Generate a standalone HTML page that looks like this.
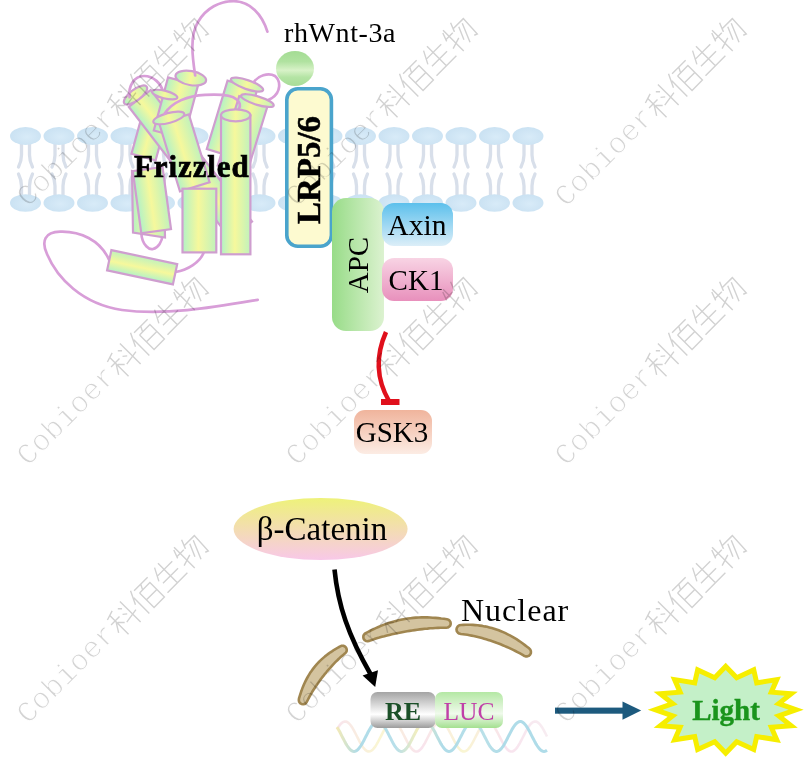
<!DOCTYPE html>
<html><head><meta charset="utf-8"><style>
html,body{margin:0;padding:0;background:#fff;}
svg{display:block;}
</style></head><body>
<svg width="807" height="774" viewBox="0 0 807 774">
<rect width="807" height="774" fill="#fff"/>

<defs>
 <linearGradient id="cylH" x1="0" y1="0" x2="1" y2="0">
  <stop offset="0" stop-color="#b2f2c6"/><stop offset="0.47" stop-color="#f6f89c"/><stop offset="1" stop-color="#c0f2bc"/>
 </linearGradient>
 <linearGradient id="capG" x1="0" y1="0" x2="1" y2="0">
  <stop offset="0" stop-color="#b2f2c6"/><stop offset="0.5" stop-color="#f6f89c"/><stop offset="1" stop-color="#c0f2bc"/>
 </linearGradient>
 <radialGradient id="wnt" cx="0.5" cy="0.5" r="0.6">
  <stop offset="0" stop-color="#e8f8d8"/><stop offset="1" stop-color="#98d888"/>
 </radialGradient>
 <linearGradient id="wntG" x1="0" y1="0" x2="0" y2="1">
  <stop offset="0" stop-color="#a4dc94"/><stop offset="0.3" stop-color="#b0e2a0"/><stop offset="0.55" stop-color="#d8f2c8"/><stop offset="0.75" stop-color="#b4e4a4"/><stop offset="1" stop-color="#a8dc98"/>
 </linearGradient>
 <radialGradient id="headG" cx="0.55" cy="0.55" r="0.6">
  <stop offset="0" stop-color="#d8ebf8"/><stop offset="1" stop-color="#c9e1f2"/>
 </radialGradient>
 <linearGradient id="apcG" x1="0" y1="0" x2="1" y2="0">
  <stop offset="0" stop-color="#98dc88"/><stop offset="1" stop-color="#dcf2d0"/>
 </linearGradient>
 <linearGradient id="axinG" x1="0" y1="0" x2="0" y2="1">
  <stop offset="0" stop-color="#5cc0ec"/><stop offset="1" stop-color="#dceef8"/>
 </linearGradient>
 <linearGradient id="ck1G" x1="0" y1="0" x2="0" y2="1">
  <stop offset="0" stop-color="#f8d4e4"/><stop offset="1" stop-color="#e890bc"/>
 </linearGradient>
 <linearGradient id="gskG" x1="0" y1="0" x2="0" y2="1">
  <stop offset="0" stop-color="#f0b49c"/><stop offset="1" stop-color="#fcece4"/>
 </linearGradient>
 <linearGradient id="betaG" x1="0" y1="0" x2="0" y2="1">
  <stop offset="0" stop-color="#eef27a"/><stop offset="1" stop-color="#f8c8e8"/>
 </linearGradient>
 <linearGradient id="reG" x1="0" y1="0" x2="0" y2="1">
  <stop offset="0" stop-color="#a4a4a4"/><stop offset="0.62" stop-color="#ffffff"/><stop offset="1" stop-color="#9c9c9c"/>
 </linearGradient>
 <linearGradient id="lucG" x1="0" y1="0" x2="0" y2="1">
  <stop offset="0" stop-color="#b4e8a4"/><stop offset="0.6" stop-color="#f0faec"/><stop offset="1" stop-color="#a4e090"/>
 </linearGradient>
</defs>

<g id="membrane">
<path d="M21.5,144 L21.5,155 Q21.5,161 18.5,167 M29.5,144 L29.5,155 Q29.5,161 32.5,167" stroke="#d8dfea" stroke-width="3.3" fill="none" stroke-linecap="round"/>
<path d="M18.5,174 Q21.5,180 21.5,186 L21.5,196 M32.5,174 Q29.5,180 29.5,186 L29.5,196" stroke="#d8dfea" stroke-width="3.3" fill="none" stroke-linecap="round"/>
<ellipse cx="25.5" cy="136" rx="15.5" ry="9" fill="url(#headG)"/>
<ellipse cx="25.5" cy="203" rx="15.5" ry="8.7" fill="url(#headG)"/>
<path d="M55.0,144 L55.0,155 Q55.0,161 52.0,167 M63.0,144 L63.0,155 Q63.0,161 66.0,167" stroke="#d8dfea" stroke-width="3.3" fill="none" stroke-linecap="round"/>
<path d="M52.0,174 Q55.0,180 55.0,186 L55.0,196 M66.0,174 Q63.0,180 63.0,186 L63.0,196" stroke="#d8dfea" stroke-width="3.3" fill="none" stroke-linecap="round"/>
<ellipse cx="59.0" cy="136" rx="15.5" ry="9" fill="url(#headG)"/>
<ellipse cx="59.0" cy="203" rx="15.5" ry="8.7" fill="url(#headG)"/>
<path d="M88.5,144 L88.5,155 Q88.5,161 85.5,167 M96.5,144 L96.5,155 Q96.5,161 99.5,167" stroke="#d8dfea" stroke-width="3.3" fill="none" stroke-linecap="round"/>
<path d="M85.5,174 Q88.5,180 88.5,186 L88.5,196 M99.5,174 Q96.5,180 96.5,186 L96.5,196" stroke="#d8dfea" stroke-width="3.3" fill="none" stroke-linecap="round"/>
<ellipse cx="92.5" cy="136" rx="15.5" ry="9" fill="url(#headG)"/>
<ellipse cx="92.5" cy="203" rx="15.5" ry="8.7" fill="url(#headG)"/>
<path d="M122.0,144 L122.0,155 Q122.0,161 119.0,167 M130.0,144 L130.0,155 Q130.0,161 133.0,167" stroke="#d8dfea" stroke-width="3.3" fill="none" stroke-linecap="round"/>
<path d="M119.0,174 Q122.0,180 122.0,186 L122.0,196 M133.0,174 Q130.0,180 130.0,186 L130.0,196" stroke="#d8dfea" stroke-width="3.3" fill="none" stroke-linecap="round"/>
<ellipse cx="126.0" cy="136" rx="15.5" ry="9" fill="url(#headG)"/>
<ellipse cx="126.0" cy="203" rx="15.5" ry="8.7" fill="url(#headG)"/>
<path d="M155.5,144 L155.5,155 Q155.5,161 152.5,167 M163.5,144 L163.5,155 Q163.5,161 166.5,167" stroke="#d8dfea" stroke-width="3.3" fill="none" stroke-linecap="round"/>
<path d="M152.5,174 Q155.5,180 155.5,186 L155.5,196 M166.5,174 Q163.5,180 163.5,186 L163.5,196" stroke="#d8dfea" stroke-width="3.3" fill="none" stroke-linecap="round"/>
<ellipse cx="159.5" cy="136" rx="15.5" ry="9" fill="url(#headG)"/>
<ellipse cx="159.5" cy="203" rx="15.5" ry="8.7" fill="url(#headG)"/>
<path d="M189.0,144 L189.0,155 Q189.0,161 186.0,167 M197.0,144 L197.0,155 Q197.0,161 200.0,167" stroke="#d8dfea" stroke-width="3.3" fill="none" stroke-linecap="round"/>
<path d="M186.0,174 Q189.0,180 189.0,186 L189.0,196 M200.0,174 Q197.0,180 197.0,186 L197.0,196" stroke="#d8dfea" stroke-width="3.3" fill="none" stroke-linecap="round"/>
<ellipse cx="193.0" cy="136" rx="15.5" ry="9" fill="url(#headG)"/>
<ellipse cx="193.0" cy="203" rx="15.5" ry="8.7" fill="url(#headG)"/>
<path d="M222.5,144 L222.5,155 Q222.5,161 219.5,167 M230.5,144 L230.5,155 Q230.5,161 233.5,167" stroke="#d8dfea" stroke-width="3.3" fill="none" stroke-linecap="round"/>
<path d="M219.5,174 Q222.5,180 222.5,186 L222.5,196 M233.5,174 Q230.5,180 230.5,186 L230.5,196" stroke="#d8dfea" stroke-width="3.3" fill="none" stroke-linecap="round"/>
<ellipse cx="226.5" cy="136" rx="15.5" ry="9" fill="url(#headG)"/>
<ellipse cx="226.5" cy="203" rx="15.5" ry="8.7" fill="url(#headG)"/>
<path d="M256.0,144 L256.0,155 Q256.0,161 253.0,167 M264.0,144 L264.0,155 Q264.0,161 267.0,167" stroke="#d8dfea" stroke-width="3.3" fill="none" stroke-linecap="round"/>
<path d="M253.0,174 Q256.0,180 256.0,186 L256.0,196 M267.0,174 Q264.0,180 264.0,186 L264.0,196" stroke="#d8dfea" stroke-width="3.3" fill="none" stroke-linecap="round"/>
<ellipse cx="260.0" cy="136" rx="15.5" ry="9" fill="url(#headG)"/>
<ellipse cx="260.0" cy="203" rx="15.5" ry="8.7" fill="url(#headG)"/>
<path d="M289.5,144 L289.5,155 Q289.5,161 286.5,167 M297.5,144 L297.5,155 Q297.5,161 300.5,167" stroke="#d8dfea" stroke-width="3.3" fill="none" stroke-linecap="round"/>
<path d="M286.5,174 Q289.5,180 289.5,186 L289.5,196 M300.5,174 Q297.5,180 297.5,186 L297.5,196" stroke="#d8dfea" stroke-width="3.3" fill="none" stroke-linecap="round"/>
<ellipse cx="293.5" cy="136" rx="15.5" ry="9" fill="url(#headG)"/>
<ellipse cx="293.5" cy="203" rx="15.5" ry="8.7" fill="url(#headG)"/>
<path d="M323.0,144 L323.0,155 Q323.0,161 320.0,167 M331.0,144 L331.0,155 Q331.0,161 334.0,167" stroke="#d8dfea" stroke-width="3.3" fill="none" stroke-linecap="round"/>
<path d="M320.0,174 Q323.0,180 323.0,186 L323.0,196 M334.0,174 Q331.0,180 331.0,186 L331.0,196" stroke="#d8dfea" stroke-width="3.3" fill="none" stroke-linecap="round"/>
<ellipse cx="327.0" cy="136" rx="15.5" ry="9" fill="url(#headG)"/>
<ellipse cx="327.0" cy="203" rx="15.5" ry="8.7" fill="url(#headG)"/>
<path d="M356.5,144 L356.5,155 Q356.5,161 353.5,167 M364.5,144 L364.5,155 Q364.5,161 367.5,167" stroke="#d8dfea" stroke-width="3.3" fill="none" stroke-linecap="round"/>
<path d="M353.5,174 Q356.5,180 356.5,186 L356.5,196 M367.5,174 Q364.5,180 364.5,186 L364.5,196" stroke="#d8dfea" stroke-width="3.3" fill="none" stroke-linecap="round"/>
<ellipse cx="360.5" cy="136" rx="15.5" ry="9" fill="url(#headG)"/>
<ellipse cx="360.5" cy="203" rx="15.5" ry="8.7" fill="url(#headG)"/>
<path d="M390.0,144 L390.0,155 Q390.0,161 387.0,167 M398.0,144 L398.0,155 Q398.0,161 401.0,167" stroke="#d8dfea" stroke-width="3.3" fill="none" stroke-linecap="round"/>
<path d="M387.0,174 Q390.0,180 390.0,186 L390.0,196 M401.0,174 Q398.0,180 398.0,186 L398.0,196" stroke="#d8dfea" stroke-width="3.3" fill="none" stroke-linecap="round"/>
<ellipse cx="394.0" cy="136" rx="15.5" ry="9" fill="url(#headG)"/>
<ellipse cx="394.0" cy="203" rx="15.5" ry="8.7" fill="url(#headG)"/>
<path d="M423.5,144 L423.5,155 Q423.5,161 420.5,167 M431.5,144 L431.5,155 Q431.5,161 434.5,167" stroke="#d8dfea" stroke-width="3.3" fill="none" stroke-linecap="round"/>
<path d="M420.5,174 Q423.5,180 423.5,186 L423.5,196 M434.5,174 Q431.5,180 431.5,186 L431.5,196" stroke="#d8dfea" stroke-width="3.3" fill="none" stroke-linecap="round"/>
<ellipse cx="427.5" cy="136" rx="15.5" ry="9" fill="url(#headG)"/>
<ellipse cx="427.5" cy="203" rx="15.5" ry="8.7" fill="url(#headG)"/>
<path d="M457.0,144 L457.0,155 Q457.0,161 454.0,167 M465.0,144 L465.0,155 Q465.0,161 468.0,167" stroke="#d8dfea" stroke-width="3.3" fill="none" stroke-linecap="round"/>
<path d="M454.0,174 Q457.0,180 457.0,186 L457.0,196 M468.0,174 Q465.0,180 465.0,186 L465.0,196" stroke="#d8dfea" stroke-width="3.3" fill="none" stroke-linecap="round"/>
<ellipse cx="461.0" cy="136" rx="15.5" ry="9" fill="url(#headG)"/>
<ellipse cx="461.0" cy="203" rx="15.5" ry="8.7" fill="url(#headG)"/>
<path d="M490.5,144 L490.5,155 Q490.5,161 487.5,167 M498.5,144 L498.5,155 Q498.5,161 501.5,167" stroke="#d8dfea" stroke-width="3.3" fill="none" stroke-linecap="round"/>
<path d="M487.5,174 Q490.5,180 490.5,186 L490.5,196 M501.5,174 Q498.5,180 498.5,186 L498.5,196" stroke="#d8dfea" stroke-width="3.3" fill="none" stroke-linecap="round"/>
<ellipse cx="494.5" cy="136" rx="15.5" ry="9" fill="url(#headG)"/>
<ellipse cx="494.5" cy="203" rx="15.5" ry="8.7" fill="url(#headG)"/>
<path d="M524.0,144 L524.0,155 Q524.0,161 521.0,167 M532.0,144 L532.0,155 Q532.0,161 535.0,167" stroke="#d8dfea" stroke-width="3.3" fill="none" stroke-linecap="round"/>
<path d="M521.0,174 Q524.0,180 524.0,186 L524.0,196 M535.0,174 Q532.0,180 532.0,186 L532.0,196" stroke="#d8dfea" stroke-width="3.3" fill="none" stroke-linecap="round"/>
<ellipse cx="528.0" cy="136" rx="15.5" ry="9" fill="url(#headG)"/>
<ellipse cx="528.0" cy="203" rx="15.5" ry="8.7" fill="url(#headG)"/>
</g>
<g id="frizzled">
<path d="M257.7,299.8 C215,307 165,316 122,310 C82,304 57,278 47,254 C41,241 45,232 60,231.7 C80,231 100,240 109,259.6" stroke="#d89ed8" stroke-width="2.7" fill="none" stroke-linecap="round"/>
<path d="M175.6,272 C188,270 200,262 203.5,253" stroke="#d89ed8" stroke-width="2.7" fill="none" stroke-linecap="round"/>
<path d="M141.3,233 C142,246 150,250 153,249 C158,248 162,242 162.6,235" stroke="#d89ed8" stroke-width="2.7" fill="none" stroke-linecap="round"/>
<g transform="translate(151.8,127.0) rotate(15.4)"><rect x="-12.5" y="-31.1" width="25" height="62.2" fill="url(#cylH)" stroke="#cf9ecf" stroke-width="2.2"/></g>
<g transform="translate(190.4,164.2) rotate(-37.6)"><rect x="-13.8" y="-83.0" width="27.6" height="166.1" fill="url(#cylH)" stroke="#cf9ecf" stroke-width="2.2"/></g><ellipse cx="135.5" cy="95" rx="14" ry="5.5" transform="rotate(-37 135.5 95)" fill="url(#capG)" stroke="#cf9ecf" stroke-width="2.2"/>
<path d="M129.6,97.2 C128,86 134,76 144.1,76 C154,76 161,84 162.7,91" stroke="#d89ed8" stroke-width="2.7" fill="none" stroke-linecap="round"/>
<g transform="translate(175.9,108.0) rotate(15.0)"><rect x="-15.5" y="-27.5" width="31" height="55.0" fill="url(#cylH)" stroke="#cf9ecf" stroke-width="2.2"/></g><ellipse cx="190.8" cy="78.1" rx="15.5" ry="7" transform="rotate(10 190.8 78.1)" fill="url(#capG)" stroke="#cf9ecf" stroke-width="2.2"/>
<path d="M195.2,75.5 C192,55 190,35 198,22 C206,8 220,1 234,1.2 C250,1.5 262,14 267.4,31.6" stroke="#d89ed8" stroke-width="2.7" fill="none" stroke-linecap="round"/>
<ellipse cx="164.7" cy="94.6" rx="13" ry="3.8" transform="rotate(14 164.7 94.6)" fill="url(#capG)" stroke="#cf9ecf" stroke-width="2.2"/>
<g transform="translate(232.0,119.4) rotate(16.9)"><rect x="-15.5" y="-35.7" width="31" height="71.4" fill="url(#cylH)" stroke="#cf9ecf" stroke-width="2.2"/></g><ellipse cx="247" cy="84.6" rx="17" ry="4.5" transform="rotate(19 247 84.6)" fill="url(#capG)" stroke="#cf9ecf" stroke-width="2.2"/>
<path d="M253.7,82.2 C258,76 268,72 275,76 C281,81 281,92 272,98 C268,101 264,101 262,101" stroke="#d89ed8" stroke-width="2.7" fill="none" stroke-linecap="round"/>
<g transform="translate(242.8,135.3) rotate(17.2)"><rect x="-15.0" y="-36.3" width="30" height="72.6" fill="url(#cylH)" stroke="#cf9ecf" stroke-width="2.2"/></g><ellipse cx="257.4" cy="100.6" rx="17" ry="4.2" transform="rotate(17 257.4 100.6)" fill="url(#capG)" stroke="#cf9ecf" stroke-width="2.2"/>
<g transform="translate(184.4,152.9) rotate(-17.0)"><rect x="-15.5" y="-35.5" width="31" height="71.0" fill="url(#cylH)" stroke="#cf9ecf" stroke-width="2.2"/></g><ellipse cx="168.8" cy="117.9" rx="16" ry="5" transform="rotate(-15 168.8 117.9)" fill="url(#capG)" stroke="#cf9ecf" stroke-width="2.2"/>
<path d="M164.5,113.7 C172,102 188,95.5 205,94.8 C220,94 232,95 236,99 C240,102 241,106 238.8,108.6" stroke="#d89ed8" stroke-width="2.7" fill="none" stroke-linecap="round"/>
<polygon points="132,171 133,232.5 165,237.5 164,175" fill="url(#cylH)" stroke="#cf9ecf" stroke-width="2.2"/>
<g transform="translate(151.9,200.1) rotate(-7.8)"><rect x="-15.0" y="-31.3" width="30" height="62.7" fill="url(#cylH)" stroke="#cf9ecf" stroke-width="2.2"/></g>
<g transform="translate(199.4,220.6) rotate(-0.0)"><rect x="-16.9" y="-31.9" width="33.8" height="63.7" fill="url(#cylH)" stroke="#cf9ecf" stroke-width="2.2"/></g>
<g transform="translate(235.7,184.8) rotate(-0.0)"><rect x="-14.7" y="-69.4" width="29.4" height="138.9" fill="url(#cylH)" stroke="#cf9ecf" stroke-width="2.2"/></g><ellipse cx="235.7" cy="115.3" rx="14.7" ry="6" transform="rotate(0 235.7 115.3)" fill="url(#capG)" stroke="#cf9ecf" stroke-width="2.2"/>
<g transform="translate(142.1,267.2) rotate(-78.0)"><rect x="-10.35" y="-33.6" width="20.7" height="67.3" fill="url(#cylH)" stroke="#cf9ecf" stroke-width="2.2"/></g>
<text x="134" y="177" font-family="Liberation Serif" font-weight="bold" font-size="31" letter-spacing="0.9" stroke="#000" stroke-width="0.7">Frizzled</text>
</g>
<text x="284" y="42" font-family="Liberation Serif" font-size="28" letter-spacing="0.6">rhWnt-3a</text>
<ellipse cx="295" cy="68.5" rx="19" ry="17.5" fill="url(#wntG)"/>
<rect x="286.8" y="88.8" width="44.6" height="157.4" rx="11" fill="#fdfad0" stroke="#4aa4cc" stroke-width="3.6"/>
<text transform="translate(320,170) rotate(-90)" text-anchor="middle" font-family="Liberation Serif" font-weight="bold" font-size="33" stroke="#000" stroke-width="0.5">LRP5/6</text>
<rect x="332" y="198" width="52" height="133" rx="14" fill="url(#apcG)"/>
<text transform="translate(368,265) rotate(-90)" text-anchor="middle" font-family="Liberation Serif" font-size="29">APC</text>
<rect x="382" y="203" width="71" height="43" rx="12" fill="url(#axinG)"/>
<text x="417" y="234.5" text-anchor="middle" font-family="Liberation Serif" font-size="29.5">Axin</text>
<rect x="382" y="258" width="71" height="43" rx="12" fill="url(#ck1G)"/>
<text x="416" y="289.5" text-anchor="middle" font-family="Liberation Serif" font-size="29">CK1</text>
<path d="M386,332 C378,350 374,375 389,401" stroke="#e0101c" stroke-width="4.5" fill="none"/>
<rect x="381" y="399" width="18.5" height="6" fill="#e0101c"/>
<rect x="354" y="410" width="78" height="44" rx="11" fill="url(#gskG)"/>
<text x="392" y="442" text-anchor="middle" font-family="Liberation Serif" font-size="29">GSK3</text>
<ellipse cx="320.6" cy="529" rx="87" ry="31" fill="url(#betaG)"/>
<text x="322" y="539.5" text-anchor="middle" font-family="Liberation Serif" font-size="33">β-Catenin</text>
<path d="M334.5,569.5 C338,605 348,635 371,675" stroke="#000" stroke-width="4.6" fill="none"/>
<path d="M375.2,687 L362.6,675.6 L378,670.2 Z" fill="#000"/>
<path d="M307.0,701.5 L308.0,699.5 L309.0,697.6 L310.0,695.7 L311.1,693.9 L312.1,692.0 L313.2,690.3 L314.4,688.5 L315.5,686.8 L316.6,685.1 L317.8,683.4 L319.0,681.8 L320.1,680.1 L321.3,678.5 L322.6,676.9 L323.8,675.4 L325.0,673.8 L326.3,672.3 L327.5,670.8 L328.8,669.3 L330.2,667.8 L331.5,666.3 L332.8,664.8 L334.2,663.3 L335.6,661.9 L337.1,660.5 L338.6,659.0 L340.1,657.6 L341.6,656.3 L343.2,654.9 L344.8,653.6 L346.0,652.4 L346.7,650.9 L346.7,649.2 L346.1,647.7 L344.9,646.5 L343.4,645.8 L341.7,645.8 L340.2,646.4 L338.2,647.5 L336.2,648.7 L334.2,649.8 L332.3,651.1 L330.4,652.3 L328.6,653.6 L326.8,655.0 L325.0,656.4 L323.3,657.9 L321.6,659.4 L320.0,660.9 L318.4,662.5 L316.9,664.2 L315.4,665.9 L314.0,667.6 L312.6,669.4 L311.3,671.3 L310.0,673.1 L308.8,675.1 L307.7,677.0 L306.6,679.0 L305.5,681.1 L304.5,683.2 L303.6,685.3 L302.7,687.4 L301.9,689.6 L301.1,691.8 L300.4,694.0 L299.7,696.2 L299.0,698.5 L298.8,700.1 L299.1,701.8 L300.1,703.1 L301.5,704.0 L303.1,704.2 L304.8,703.9 L306.1,702.9Z" fill="#d4c4a0" stroke="#a08650" stroke-width="2.6" stroke-linejoin="round"/>
<path d="M369.3,640.9 L371.8,640.0 L374.3,639.1 L376.8,638.3 L379.3,637.6 L381.9,636.8 L384.4,636.2 L386.9,635.5 L389.4,634.9 L391.9,634.3 L394.5,633.7 L397.0,633.2 L399.5,632.7 L402.0,632.2 L404.5,631.7 L407.1,631.3 L409.6,630.9 L412.1,630.5 L414.7,630.1 L417.2,629.7 L419.8,629.4 L422.3,629.1 L424.9,628.8 L427.5,628.6 L430.1,628.3 L432.8,628.2 L435.4,628.0 L438.1,627.9 L440.7,627.8 L443.4,627.7 L446.1,627.7 L447.8,627.5 L449.2,626.7 L450.3,625.5 L450.7,623.9 L450.5,622.2 L449.7,620.8 L448.5,619.7 L446.9,619.3 L444.0,618.8 L441.2,618.5 L438.4,618.1 L435.6,617.9 L432.8,617.7 L430.0,617.5 L427.2,617.4 L424.4,617.4 L421.6,617.4 L418.8,617.5 L416.0,617.6 L413.2,617.9 L410.5,618.2 L407.7,618.5 L404.9,619.0 L402.2,619.5 L399.5,620.0 L396.8,620.7 L394.1,621.4 L391.4,622.2 L388.8,623.0 L386.1,623.9 L383.5,624.9 L380.9,625.9 L378.4,627.0 L375.8,628.1 L373.3,629.3 L370.7,630.5 L368.2,631.8 L365.7,633.1 L364.4,634.1 L363.5,635.5 L363.3,637.1 L363.6,638.8 L364.6,640.1 L366.0,641.0 L367.6,641.2Z" fill="#d4c4a0" stroke="#a08650" stroke-width="2.6" stroke-linejoin="round"/>
<path d="M460.9,634.0 L463.1,634.2 L465.2,634.5 L467.4,634.8 L469.5,635.2 L471.6,635.6 L473.7,636.0 L475.8,636.5 L477.9,637.0 L480.0,637.5 L482.0,638.1 L484.1,638.7 L486.2,639.3 L488.2,639.9 L490.3,640.6 L492.3,641.3 L494.4,642.0 L496.5,642.8 L498.6,643.5 L500.6,644.3 L502.7,645.2 L504.8,646.1 L506.9,647.0 L509.0,647.9 L511.1,648.9 L513.2,649.9 L515.4,651.0 L517.5,652.1 L519.6,653.2 L521.8,654.4 L523.9,655.7 L525.5,656.4 L527.3,656.4 L528.9,655.8 L530.2,654.6 L530.9,653.0 L530.9,651.2 L530.3,649.6 L529.1,648.3 L527.0,646.7 L524.9,645.1 L522.8,643.5 L520.7,642.0 L518.6,640.6 L516.5,639.2 L514.3,637.9 L512.1,636.6 L509.9,635.4 L507.7,634.3 L505.5,633.2 L503.2,632.1 L501.0,631.2 L498.7,630.3 L496.4,629.5 L494.1,628.7 L491.8,628.0 L489.4,627.4 L487.1,626.8 L484.7,626.4 L482.4,625.9 L480.0,625.6 L477.7,625.3 L475.3,625.1 L472.9,624.9 L470.5,624.8 L468.2,624.8 L465.8,624.8 L463.4,624.9 L461.1,625.0 L459.3,625.3 L457.9,626.3 L456.9,627.7 L456.5,629.4 L456.8,631.2 L457.8,632.6 L459.2,633.6Z" fill="#d4c4a0" stroke="#a08650" stroke-width="2.6" stroke-linejoin="round"/>
<text x="461" y="621" font-family="Liberation Serif" font-size="32" letter-spacing="1">Nuclear</text>
<defs><linearGradient id="dna1" gradientUnits="userSpaceOnUse" x1="337" y1="0" x2="547" y2="0"><stop offset="0" stop-color="#f2e8b0"/><stop offset="0.1" stop-color="#a6d8e6"/><stop offset="0.28" stop-color="#b0dce8"/><stop offset="0.38" stop-color="#f0ecb8"/><stop offset="0.5" stop-color="#a6d8e6"/><stop offset="0.7" stop-color="#b2dde6"/><stop offset="0.8" stop-color="#a6d8e6"/><stop offset="1" stop-color="#a6d8e6"/></linearGradient><linearGradient id="dna2" gradientUnits="userSpaceOnUse" x1="337" y1="0" x2="547" y2="0"><stop offset="0" stop-color="#f4d2e2"/><stop offset="0.2" stop-color="#f6f0b4"/><stop offset="0.4" stop-color="#f4d0e2"/><stop offset="0.6" stop-color="#f6f0b4"/><stop offset="0.8" stop-color="#f4d0e2"/><stop offset="1" stop-color="#f2e0e8"/></linearGradient></defs>
<polyline points="337.0,729.4 338.0,727.7 339.0,726.2 340.0,724.8 341.0,723.7 342.0,722.8 343.0,722.1 344.0,721.7 345.0,721.5 346.0,721.6 347.0,721.9 348.0,722.6 349.0,723.4 350.0,724.5 351.0,725.8 352.0,727.2 353.0,728.9 354.0,730.7 355.0,732.5 356.0,734.5 357.0,736.5 358.0,738.4 359.0,740.4 360.0,742.3 361.0,744.0 362.0,745.7 363.0,747.2 364.0,748.5 365.0,749.5 366.0,750.4 367.0,751.0 368.0,751.4 369.0,751.5 370.0,751.3 371.0,750.9 372.0,750.3 373.0,749.3 374.0,748.2 375.0,746.9 376.0,745.4 377.0,743.7 378.0,741.9 379.0,740.0 380.0,738.0 381.0,736.1 382.0,734.1 383.0,732.1 384.0,730.3 385.0,728.5 386.0,726.9 387.0,725.5 388.0,724.2 389.0,723.2 390.0,722.4 391.0,721.9 392.0,721.6 393.0,721.5 394.0,721.7 395.0,722.2 396.0,722.9 397.0,723.9 398.0,725.1 399.0,726.5 400.0,728.0 401.0,729.8 402.0,731.6 403.0,733.5 404.0,735.5 405.0,737.4 406.0,739.4 407.0,741.3 408.0,743.2 409.0,744.9 410.0,746.4 411.0,747.8 412.0,749.0 413.0,750.0 414.0,750.8 415.0,751.2 416.0,751.5 417.0,751.5 418.0,751.2 419.0,750.6 420.0,749.8 421.0,748.8 422.0,747.6 423.0,746.1 424.0,744.5 425.0,742.8 426.0,740.9 427.0,739.0 428.0,737.0 429.0,735.1 430.0,733.1 431.0,731.2 432.0,729.4 433.0,727.7 434.0,726.2 435.0,724.8 436.0,723.7 437.0,722.8 438.0,722.1 439.0,721.7 440.0,721.5 441.0,721.6 442.0,721.9 443.0,722.6 444.0,723.4 445.0,724.5 446.0,725.8 447.0,727.2 448.0,728.9 449.0,730.7 450.0,732.5 451.0,734.5 452.0,736.5 453.0,738.4 454.0,740.4 455.0,742.3 456.0,744.0 457.0,745.7 458.0,747.2 459.0,748.5 460.0,749.5 461.0,750.4 462.0,751.0 463.0,751.4 464.0,751.5 465.0,751.3 466.0,750.9 467.0,750.3 468.0,749.3 469.0,748.2 470.0,746.9 471.0,745.4 472.0,743.7 473.0,741.9 474.0,740.0 475.0,738.0 476.0,736.1 477.0,734.1 478.0,732.1 479.0,730.3 480.0,728.5 481.0,726.9 482.0,725.5 483.0,724.2 484.0,723.2 485.0,722.4 486.0,721.9 487.0,721.6 488.0,721.5 489.0,721.7 490.0,722.2 491.0,722.9 492.0,723.9 493.0,725.1 494.0,726.5 495.0,728.0 496.0,729.8 497.0,731.6 498.0,733.5 499.0,735.5 500.0,737.4 501.0,739.4 502.0,741.3 503.0,743.2 504.0,744.9 505.0,746.4 506.0,747.8 507.0,749.0 508.0,750.0 509.0,750.8 510.0,751.2 511.0,751.5 512.0,751.5 513.0,751.2 514.0,750.6 515.0,749.8 516.0,748.8 517.0,747.6 518.0,746.1 519.0,744.5 520.0,742.8 521.0,740.9 522.0,739.0 523.0,737.0 524.0,735.1 525.0,733.1 526.0,731.2 527.0,729.4 528.0,727.7 529.0,726.2 530.0,724.8 531.0,723.7 532.0,722.8 533.0,722.1 534.0,721.7 535.0,721.5 536.0,721.6 537.0,721.9 538.0,722.6 539.0,723.4 540.0,724.5 541.0,725.8 542.0,727.2 543.0,728.9 544.0,730.7 545.0,732.5 546.0,734.5 547.0,736.5" stroke="url(#dna2)" stroke-width="2.6" fill="none" opacity="0.6"/>
<polyline points="337.0,727.1 338.0,728.7 339.0,730.5 340.0,732.3 341.0,734.3 342.0,736.3 343.0,738.2 344.0,740.2 345.0,742.1 346.0,743.9 347.0,745.5 348.0,747.0 349.0,748.3 350.0,749.4 351.0,750.3 352.0,751.0 353.0,751.4 354.0,751.5 355.0,751.4 356.0,751.0 357.0,750.3 358.0,749.4 359.0,748.3 360.0,747.0 361.0,745.5 362.0,743.9 363.0,742.1 364.0,740.2 365.0,738.2 366.0,736.3 367.0,734.3 368.0,732.3 369.0,730.5 370.0,728.7 371.0,727.1 372.0,725.6 373.0,724.4 374.0,723.3 375.0,722.5 376.0,721.9 377.0,721.6 378.0,721.5 379.0,721.7 380.0,722.2 381.0,722.9 382.0,723.8 383.0,725.0 384.0,726.3 385.0,727.9 386.0,729.6 387.0,731.4 388.0,733.3 389.0,735.3 390.0,737.2 391.0,739.2 392.0,741.1 393.0,743.0 394.0,744.7 395.0,746.3 396.0,747.7 397.0,748.9 398.0,749.9 399.0,750.7 400.0,751.2 401.0,751.5 402.0,751.5 403.0,751.2 404.0,750.7 405.0,749.9 406.0,748.9 407.0,747.7 408.0,746.3 409.0,744.7 410.0,743.0 411.0,741.1 412.0,739.2 413.0,737.2 414.0,735.3 415.0,733.3 416.0,731.4 417.0,729.6 418.0,727.9 419.0,726.3 420.0,725.0 421.0,723.8 422.0,722.9 423.0,722.2 424.0,721.7 425.0,721.5 426.0,721.6 427.0,721.9 428.0,722.5 429.0,723.3 430.0,724.4 431.0,725.6 432.0,727.1 433.0,728.7 434.0,730.5 435.0,732.3 436.0,734.3 437.0,736.3 438.0,738.2 439.0,740.2 440.0,742.1 441.0,743.9 442.0,745.5 443.0,747.0 444.0,748.3 445.0,749.4 446.0,750.3 447.0,751.0 448.0,751.4 449.0,751.5 450.0,751.4 451.0,751.0 452.0,750.3 453.0,749.4 454.0,748.3 455.0,747.0 456.0,745.5 457.0,743.9 458.0,742.1 459.0,740.2 460.0,738.2 461.0,736.3 462.0,734.3 463.0,732.3 464.0,730.5 465.0,728.7 466.0,727.1 467.0,725.6 468.0,724.4 469.0,723.3 470.0,722.5 471.0,721.9 472.0,721.6 473.0,721.5 474.0,721.7 475.0,722.2 476.0,722.9 477.0,723.8 478.0,725.0 479.0,726.3 480.0,727.9 481.0,729.6 482.0,731.4 483.0,733.3 484.0,735.3 485.0,737.2 486.0,739.2 487.0,741.1 488.0,743.0 489.0,744.7 490.0,746.3 491.0,747.7 492.0,748.9 493.0,749.9 494.0,750.7 495.0,751.2 496.0,751.5 497.0,751.5 498.0,751.2 499.0,750.7 500.0,749.9 501.0,748.9 502.0,747.7 503.0,746.3 504.0,744.7 505.0,743.0 506.0,741.1 507.0,739.2 508.0,737.2 509.0,735.3 510.0,733.3 511.0,731.4 512.0,729.6 513.0,727.9 514.0,726.3 515.0,725.0 516.0,723.8 517.0,722.9 518.0,722.2 519.0,721.7 520.0,721.5 521.0,721.6 522.0,721.9 523.0,722.5 524.0,723.3 525.0,724.4 526.0,725.6 527.0,727.1 528.0,728.7 529.0,730.5 530.0,732.3 531.0,734.3 532.0,736.3 533.0,738.2 534.0,740.2 535.0,742.1 536.0,743.9 537.0,745.5 538.0,747.0 539.0,748.3 540.0,749.4 541.0,750.3 542.0,751.0 543.0,751.4 544.0,751.5 545.0,751.4 546.0,751.0 547.0,750.3" stroke="url(#dna1)" stroke-width="3.0" fill="none" opacity="0.9"/>
<rect x="370.5" y="692" width="65" height="36" rx="7" fill="url(#reG)"/>
<text x="403" y="720" text-anchor="middle" font-family="Liberation Serif" font-weight="bold" font-size="26" fill="#1b5028">RE</text>
<rect x="435" y="692" width="68" height="36" rx="7" fill="url(#lucG)"/>
<text x="469" y="720" text-anchor="middle" font-family="Liberation Serif" font-size="25.5" fill="#c040a8">LUC</text>
<rect x="555" y="707.6" width="70" height="6.1" fill="#1d5a7e"/>
<path d="M622.5,701.5 L641.2,710.6 L622.5,719.8 Z" fill="#1d5a7e"/>
<polygon points="725.7,662.7 737.3,674.7 755.5,666.3 758.6,680.0 780.9,676.5 775.0,689.9 797.8,691.7 783.8,702.7 803.7,709.7 783.8,716.7 797.8,727.7 775.0,729.5 780.9,742.9 758.6,739.4 755.5,753.1 737.3,744.7 725.7,756.7 714.1,744.7 695.9,753.1 692.8,739.4 670.5,742.9 676.4,729.5 653.6,727.7 667.6,716.7 647.7,709.7 667.6,702.7 653.6,691.7 676.4,689.9 670.5,676.5 692.8,680.0 695.9,666.3 714.1,674.7" fill="#f6ee00"/>
<polygon points="725.7,669.9 736.1,680.7 752.0,673.4 754.8,685.7 772.6,682.8 767.6,694.3 784.7,695.7 773.6,704.4 788.6,709.7 773.6,715.0 784.7,723.7 767.6,725.1 772.6,736.6 754.8,733.7 752.0,746.0 736.1,738.7 725.7,749.5 715.3,738.7 699.4,746.0 696.6,733.7 678.8,736.6 683.8,725.1 666.7,723.7 677.8,715.0 662.8,709.7 677.8,704.4 666.7,695.7 683.8,694.3 678.8,682.8 696.6,685.7 699.4,673.4 715.3,680.7" fill="#c4f0c8"/>
<text x="726" y="720" text-anchor="middle" font-family="Liberation Serif" font-weight="bold" font-size="29" fill="#1a941c" stroke="#1a941c" stroke-width="0.4">Light</text>
<g transform="translate(28,208) rotate(-45)" style="mix-blend-mode:multiply"><text x="0" y="0" font-family="Liberation Mono" font-size="30" fill="#d4d4d4" stroke="#fff" stroke-width="1.1">Cobioer</text><path d="M140.2,-21.2 L130.4,-18.1 M129.5,-12.0 L141.4,-12.0 M135.3,-19.3 L135.3,6.9 M135.3,-10.8 L129.2,-1.0 M135.9,-9.0 L140.8,-4.1 M145.7,-18.7 L148.7,-15.7 M145.1,-11.4 L148.7,-8.4 M142.6,-2.9 L157.9,-5.3 M152.4,-22.4 L152.4,6.9 M167.4,-22.4 L161.0,-9.0 M164.7,-15.1 L164.7,6.9 M169.9,-19.9 L189.1,-19.9 M179.0,-19.3 L176.6,-14.5 M172.3,-14.5 L172.3,6.0 L186.9,6.0 L186.9,-14.5 L172.3,-14.5 M172.3,-4.7 L186.9,-4.7 M200.8,-21.8 L194.1,-9.0 M197.1,-13.8 L217.8,-13.8 M195.6,-4.7 L216.9,-4.7 M192.2,5.1 L220.3,5.1 M206.2,-22.4 L206.2,5.1 M226.8,-20.6 L223.7,-12.0 M224.3,-13.8 L234.1,-13.8 M228.9,-22.4 L228.9,6.9 M223.1,-2.3 L234.7,-5.9 M239.6,-22.4 L235.9,-13.2 M237.8,-16.3 L251.5,-16.3 L250.6,4.4 L247.5,3.2 M242.6,-13.8 L237.1,-1.0 M247.5,-13.8 L239.6,5.1" stroke="#d2d2d2" stroke-width="1.4" fill="none"/></g>
<g transform="translate(28,467) rotate(-45)" style="mix-blend-mode:multiply"><text x="0" y="0" font-family="Liberation Mono" font-size="30" fill="#d4d4d4" stroke="#fff" stroke-width="1.1">Cobioer</text><path d="M140.2,-21.2 L130.4,-18.1 M129.5,-12.0 L141.4,-12.0 M135.3,-19.3 L135.3,6.9 M135.3,-10.8 L129.2,-1.0 M135.9,-9.0 L140.8,-4.1 M145.7,-18.7 L148.7,-15.7 M145.1,-11.4 L148.7,-8.4 M142.6,-2.9 L157.9,-5.3 M152.4,-22.4 L152.4,6.9 M167.4,-22.4 L161.0,-9.0 M164.7,-15.1 L164.7,6.9 M169.9,-19.9 L189.1,-19.9 M179.0,-19.3 L176.6,-14.5 M172.3,-14.5 L172.3,6.0 L186.9,6.0 L186.9,-14.5 L172.3,-14.5 M172.3,-4.7 L186.9,-4.7 M200.8,-21.8 L194.1,-9.0 M197.1,-13.8 L217.8,-13.8 M195.6,-4.7 L216.9,-4.7 M192.2,5.1 L220.3,5.1 M206.2,-22.4 L206.2,5.1 M226.8,-20.6 L223.7,-12.0 M224.3,-13.8 L234.1,-13.8 M228.9,-22.4 L228.9,6.9 M223.1,-2.3 L234.7,-5.9 M239.6,-22.4 L235.9,-13.2 M237.8,-16.3 L251.5,-16.3 L250.6,4.4 L247.5,3.2 M242.6,-13.8 L237.1,-1.0 M247.5,-13.8 L239.6,5.1" stroke="#d2d2d2" stroke-width="1.4" fill="none"/></g>
<g transform="translate(28,725) rotate(-45)" style="mix-blend-mode:multiply"><text x="0" y="0" font-family="Liberation Mono" font-size="30" fill="#d4d4d4" stroke="#fff" stroke-width="1.1">Cobioer</text><path d="M140.2,-21.2 L130.4,-18.1 M129.5,-12.0 L141.4,-12.0 M135.3,-19.3 L135.3,6.9 M135.3,-10.8 L129.2,-1.0 M135.9,-9.0 L140.8,-4.1 M145.7,-18.7 L148.7,-15.7 M145.1,-11.4 L148.7,-8.4 M142.6,-2.9 L157.9,-5.3 M152.4,-22.4 L152.4,6.9 M167.4,-22.4 L161.0,-9.0 M164.7,-15.1 L164.7,6.9 M169.9,-19.9 L189.1,-19.9 M179.0,-19.3 L176.6,-14.5 M172.3,-14.5 L172.3,6.0 L186.9,6.0 L186.9,-14.5 L172.3,-14.5 M172.3,-4.7 L186.9,-4.7 M200.8,-21.8 L194.1,-9.0 M197.1,-13.8 L217.8,-13.8 M195.6,-4.7 L216.9,-4.7 M192.2,5.1 L220.3,5.1 M206.2,-22.4 L206.2,5.1 M226.8,-20.6 L223.7,-12.0 M224.3,-13.8 L234.1,-13.8 M228.9,-22.4 L228.9,6.9 M223.1,-2.3 L234.7,-5.9 M239.6,-22.4 L235.9,-13.2 M237.8,-16.3 L251.5,-16.3 L250.6,4.4 L247.5,3.2 M242.6,-13.8 L237.1,-1.0 M247.5,-13.8 L239.6,5.1" stroke="#d2d2d2" stroke-width="1.4" fill="none"/></g>
<g transform="translate(297,208) rotate(-45)" style="mix-blend-mode:multiply"><text x="0" y="0" font-family="Liberation Mono" font-size="30" fill="#d4d4d4" stroke="#fff" stroke-width="1.1">Cobioer</text><path d="M140.2,-21.2 L130.4,-18.1 M129.5,-12.0 L141.4,-12.0 M135.3,-19.3 L135.3,6.9 M135.3,-10.8 L129.2,-1.0 M135.9,-9.0 L140.8,-4.1 M145.7,-18.7 L148.7,-15.7 M145.1,-11.4 L148.7,-8.4 M142.6,-2.9 L157.9,-5.3 M152.4,-22.4 L152.4,6.9 M167.4,-22.4 L161.0,-9.0 M164.7,-15.1 L164.7,6.9 M169.9,-19.9 L189.1,-19.9 M179.0,-19.3 L176.6,-14.5 M172.3,-14.5 L172.3,6.0 L186.9,6.0 L186.9,-14.5 L172.3,-14.5 M172.3,-4.7 L186.9,-4.7 M200.8,-21.8 L194.1,-9.0 M197.1,-13.8 L217.8,-13.8 M195.6,-4.7 L216.9,-4.7 M192.2,5.1 L220.3,5.1 M206.2,-22.4 L206.2,5.1 M226.8,-20.6 L223.7,-12.0 M224.3,-13.8 L234.1,-13.8 M228.9,-22.4 L228.9,6.9 M223.1,-2.3 L234.7,-5.9 M239.6,-22.4 L235.9,-13.2 M237.8,-16.3 L251.5,-16.3 L250.6,4.4 L247.5,3.2 M242.6,-13.8 L237.1,-1.0 M247.5,-13.8 L239.6,5.1" stroke="#d2d2d2" stroke-width="1.4" fill="none"/></g>
<g transform="translate(297,467) rotate(-45)" style="mix-blend-mode:multiply"><text x="0" y="0" font-family="Liberation Mono" font-size="30" fill="#d4d4d4" stroke="#fff" stroke-width="1.1">Cobioer</text><path d="M140.2,-21.2 L130.4,-18.1 M129.5,-12.0 L141.4,-12.0 M135.3,-19.3 L135.3,6.9 M135.3,-10.8 L129.2,-1.0 M135.9,-9.0 L140.8,-4.1 M145.7,-18.7 L148.7,-15.7 M145.1,-11.4 L148.7,-8.4 M142.6,-2.9 L157.9,-5.3 M152.4,-22.4 L152.4,6.9 M167.4,-22.4 L161.0,-9.0 M164.7,-15.1 L164.7,6.9 M169.9,-19.9 L189.1,-19.9 M179.0,-19.3 L176.6,-14.5 M172.3,-14.5 L172.3,6.0 L186.9,6.0 L186.9,-14.5 L172.3,-14.5 M172.3,-4.7 L186.9,-4.7 M200.8,-21.8 L194.1,-9.0 M197.1,-13.8 L217.8,-13.8 M195.6,-4.7 L216.9,-4.7 M192.2,5.1 L220.3,5.1 M206.2,-22.4 L206.2,5.1 M226.8,-20.6 L223.7,-12.0 M224.3,-13.8 L234.1,-13.8 M228.9,-22.4 L228.9,6.9 M223.1,-2.3 L234.7,-5.9 M239.6,-22.4 L235.9,-13.2 M237.8,-16.3 L251.5,-16.3 L250.6,4.4 L247.5,3.2 M242.6,-13.8 L237.1,-1.0 M247.5,-13.8 L239.6,5.1" stroke="#d2d2d2" stroke-width="1.4" fill="none"/></g>
<g transform="translate(297,725) rotate(-45)" style="mix-blend-mode:multiply"><text x="0" y="0" font-family="Liberation Mono" font-size="30" fill="#d4d4d4" stroke="#fff" stroke-width="1.1">Cobioer</text><path d="M140.2,-21.2 L130.4,-18.1 M129.5,-12.0 L141.4,-12.0 M135.3,-19.3 L135.3,6.9 M135.3,-10.8 L129.2,-1.0 M135.9,-9.0 L140.8,-4.1 M145.7,-18.7 L148.7,-15.7 M145.1,-11.4 L148.7,-8.4 M142.6,-2.9 L157.9,-5.3 M152.4,-22.4 L152.4,6.9 M167.4,-22.4 L161.0,-9.0 M164.7,-15.1 L164.7,6.9 M169.9,-19.9 L189.1,-19.9 M179.0,-19.3 L176.6,-14.5 M172.3,-14.5 L172.3,6.0 L186.9,6.0 L186.9,-14.5 L172.3,-14.5 M172.3,-4.7 L186.9,-4.7 M200.8,-21.8 L194.1,-9.0 M197.1,-13.8 L217.8,-13.8 M195.6,-4.7 L216.9,-4.7 M192.2,5.1 L220.3,5.1 M206.2,-22.4 L206.2,5.1 M226.8,-20.6 L223.7,-12.0 M224.3,-13.8 L234.1,-13.8 M228.9,-22.4 L228.9,6.9 M223.1,-2.3 L234.7,-5.9 M239.6,-22.4 L235.9,-13.2 M237.8,-16.3 L251.5,-16.3 L250.6,4.4 L247.5,3.2 M242.6,-13.8 L237.1,-1.0 M247.5,-13.8 L239.6,5.1" stroke="#d2d2d2" stroke-width="1.4" fill="none"/></g>
<g transform="translate(566,208) rotate(-45)" style="mix-blend-mode:multiply"><text x="0" y="0" font-family="Liberation Mono" font-size="30" fill="#d4d4d4" stroke="#fff" stroke-width="1.1">Cobioer</text><path d="M140.2,-21.2 L130.4,-18.1 M129.5,-12.0 L141.4,-12.0 M135.3,-19.3 L135.3,6.9 M135.3,-10.8 L129.2,-1.0 M135.9,-9.0 L140.8,-4.1 M145.7,-18.7 L148.7,-15.7 M145.1,-11.4 L148.7,-8.4 M142.6,-2.9 L157.9,-5.3 M152.4,-22.4 L152.4,6.9 M167.4,-22.4 L161.0,-9.0 M164.7,-15.1 L164.7,6.9 M169.9,-19.9 L189.1,-19.9 M179.0,-19.3 L176.6,-14.5 M172.3,-14.5 L172.3,6.0 L186.9,6.0 L186.9,-14.5 L172.3,-14.5 M172.3,-4.7 L186.9,-4.7 M200.8,-21.8 L194.1,-9.0 M197.1,-13.8 L217.8,-13.8 M195.6,-4.7 L216.9,-4.7 M192.2,5.1 L220.3,5.1 M206.2,-22.4 L206.2,5.1 M226.8,-20.6 L223.7,-12.0 M224.3,-13.8 L234.1,-13.8 M228.9,-22.4 L228.9,6.9 M223.1,-2.3 L234.7,-5.9 M239.6,-22.4 L235.9,-13.2 M237.8,-16.3 L251.5,-16.3 L250.6,4.4 L247.5,3.2 M242.6,-13.8 L237.1,-1.0 M247.5,-13.8 L239.6,5.1" stroke="#d2d2d2" stroke-width="1.4" fill="none"/></g>
<g transform="translate(566,467) rotate(-45)" style="mix-blend-mode:multiply"><text x="0" y="0" font-family="Liberation Mono" font-size="30" fill="#d4d4d4" stroke="#fff" stroke-width="1.1">Cobioer</text><path d="M140.2,-21.2 L130.4,-18.1 M129.5,-12.0 L141.4,-12.0 M135.3,-19.3 L135.3,6.9 M135.3,-10.8 L129.2,-1.0 M135.9,-9.0 L140.8,-4.1 M145.7,-18.7 L148.7,-15.7 M145.1,-11.4 L148.7,-8.4 M142.6,-2.9 L157.9,-5.3 M152.4,-22.4 L152.4,6.9 M167.4,-22.4 L161.0,-9.0 M164.7,-15.1 L164.7,6.9 M169.9,-19.9 L189.1,-19.9 M179.0,-19.3 L176.6,-14.5 M172.3,-14.5 L172.3,6.0 L186.9,6.0 L186.9,-14.5 L172.3,-14.5 M172.3,-4.7 L186.9,-4.7 M200.8,-21.8 L194.1,-9.0 M197.1,-13.8 L217.8,-13.8 M195.6,-4.7 L216.9,-4.7 M192.2,5.1 L220.3,5.1 M206.2,-22.4 L206.2,5.1 M226.8,-20.6 L223.7,-12.0 M224.3,-13.8 L234.1,-13.8 M228.9,-22.4 L228.9,6.9 M223.1,-2.3 L234.7,-5.9 M239.6,-22.4 L235.9,-13.2 M237.8,-16.3 L251.5,-16.3 L250.6,4.4 L247.5,3.2 M242.6,-13.8 L237.1,-1.0 M247.5,-13.8 L239.6,5.1" stroke="#d2d2d2" stroke-width="1.4" fill="none"/></g>
<g transform="translate(566,725) rotate(-45)" style="mix-blend-mode:multiply"><text x="0" y="0" font-family="Liberation Mono" font-size="30" fill="#d4d4d4" stroke="#fff" stroke-width="1.1">Cobioer</text><path d="M140.2,-21.2 L130.4,-18.1 M129.5,-12.0 L141.4,-12.0 M135.3,-19.3 L135.3,6.9 M135.3,-10.8 L129.2,-1.0 M135.9,-9.0 L140.8,-4.1 M145.7,-18.7 L148.7,-15.7 M145.1,-11.4 L148.7,-8.4 M142.6,-2.9 L157.9,-5.3 M152.4,-22.4 L152.4,6.9 M167.4,-22.4 L161.0,-9.0 M164.7,-15.1 L164.7,6.9 M169.9,-19.9 L189.1,-19.9 M179.0,-19.3 L176.6,-14.5 M172.3,-14.5 L172.3,6.0 L186.9,6.0 L186.9,-14.5 L172.3,-14.5 M172.3,-4.7 L186.9,-4.7 M200.8,-21.8 L194.1,-9.0 M197.1,-13.8 L217.8,-13.8 M195.6,-4.7 L216.9,-4.7 M192.2,5.1 L220.3,5.1 M206.2,-22.4 L206.2,5.1 M226.8,-20.6 L223.7,-12.0 M224.3,-13.8 L234.1,-13.8 M228.9,-22.4 L228.9,6.9 M223.1,-2.3 L234.7,-5.9 M239.6,-22.4 L235.9,-13.2 M237.8,-16.3 L251.5,-16.3 L250.6,4.4 L247.5,3.2 M242.6,-13.8 L237.1,-1.0 M247.5,-13.8 L239.6,5.1" stroke="#d2d2d2" stroke-width="1.4" fill="none"/></g>
</svg></body></html>
